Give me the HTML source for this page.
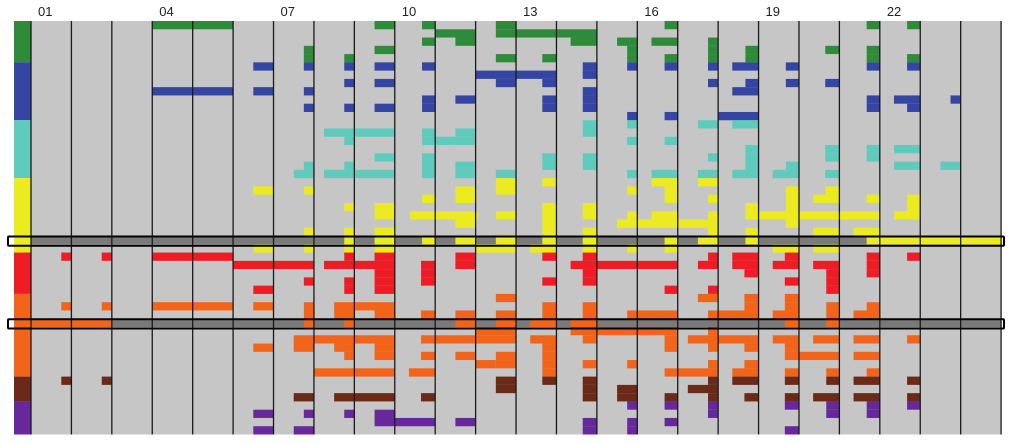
<!DOCTYPE html>
<html><head><meta charset="utf-8"><style>
html,body{margin:0;padding:0;background:#fff;}
svg{display:block;font-family:"Liberation Sans",sans-serif;}
</style></head><body>
<svg id="chart" width="1011" height="444" viewBox="0 0 1011 444"></svg>
<script>
// Chart data
const columnLabels = ["01","","","04","","","07","","","10","","","13","","","16","","","19","","","22","",""];
const groupNames = ["green","blue","teal","yellow","red","orange","brown","purple"];
const groupColors = ["#2e8b3a","#3445a3","#5ecbbc","#ebeb20","#ee1c25","#f26419","#6a2a17","#66289a"];
const groupStartRows = [0,5,12,19,28,33,43,46];
const highlightRows = [26,36];
// segments per row: [startUnit, lengthUnit] where a column = 4 units
const rowSegments = [
/*0*/[[12,8],[34,2],[38.7,1.3],[46,2],[62.7,1.3],[82.7,1.3],[86.7,1.3]],
/*1*/[[40,4],[46,2],[48,8]],
/*2*/[[38.7,1.3],[42,2],[53.4,2.6],[58,2],[61.4,2.6],[67,1]],
/*3*/[[27,1],[34,2],[59,1],[67,1],[70.7,1.3],[78.6,1.4],[82.7,1.3]],
/*4*/[[27,1],[31,1],[46,2],[50.6,1.4],[59,1],[62.7,1.3],[67,1],[70.7,1.3],[82.7,1.3],[86.7,1.3]],
/*5*/[[22,2],[27,1],[31,1],[34,2],[38.7,1.3],[54.6,1.4],[59,1],[62.7,1.3],[67,1],[69.4,2.6],[74.7,1.3],[82.7,1.3],[86.7,1.3]],
/*6*/[[44,8],[54.6,1.4]],
/*7*/[[31,1],[34,2],[46,2],[50.6,1.4],[67,1],[70.7,1.3],[74.7,1.3],[78.6,1.4]],
/*8*/[[12,8],[22,2],[27,1],[54.6,1.4],[69.4,2.6]],
/*9*/[[38.7,1.3],[42,2],[50.6,1.4],[54.6,1.4],[82.7,1.3],[85.4,2.6],[91,1]],
/*10*/[[27,1],[31,1],[34,2],[38.7,1.3],[50.6,1.4],[54.6,1.4],[82.7,1.3],[86.7,1.3]],
/*11*/[[59,1],[62.7,1.3],[68,4]],
/*12*/[[54.6,1.4],[59,1],[66,2],[69.4,2.6]],
/*13*/[[29,7],[38.7,1.3],[42,2],[54.6,1.4]],
/*14*/[[31,1],[38.7,1.3],[40,2],[42,2],[59,1],[62.7,1.3]],
/*15*/[[70.7,1.3],[78.6,1.4],[82.7,1.3],[85.4,2.6]],
/*16*/[[34,2],[38.7,1.3],[50.6,1.4],[54.6,1.4],[67,1],[70.7,1.3],[78.6,1.4],[82.7,1.3]],
/*17*/[[27,1],[31,1],[38.7,1.3],[42,2],[50.6,1.4],[54.6,1.4],[70.7,1.3],[74.7,1.3],[85.4,2.6],[90,2]],
/*18*/[[26,2],[29,7],[38.7,1.3],[42,2],[46,2],[59,1],[61.4,2.6],[66,2],[69.4,2.6],[73.4,2.6],[78.6,1.4]],
/*19*/[[46,2],[50.6,1.4],[61.4,2.6],[66,2]],
/*20*/[[22,2],[27,1],[42,2],[46,2],[59,1],[62.7,1.3],[74.7,1.3],[78.6,1.4]],
/*21*/[[38.7,1.3],[42,2],[62.7,1.3],[67,1],[74.7,1.3],[77.4,2.6],[82.7,1.3],[86.7,1.3]],
/*22*/[[31,1],[34,2],[50.6,1.4],[54.6,1.4],[70.7,1.3],[74.7,1.3],[86.7,1.3]],
/*23*/[[34,2],[37.5,6.7],[46,2],[50.6,1.4],[54.6,1.4],[59,1],[61.4,2.6],[67,1],[70.7,1.3],[72,12],[85.4,2.6],[86.7,1.3]],
/*24*/[[42,2],[50.6,1.4],[58,10],[67,1],[74.7,1.3]],
/*25*/[[27,1],[31,1],[34,2],[50.6,1.4],[54.6,1.4],[67,1],[70.7,1.3],[77.4,2.6],[81.4,2.6]],
/*26*/[[31,1],[34,2],[38.7,1.3],[42,2],[46,2],[50.6,1.4],[54.6,1.4],[62.7,1.3],[66,2],[70.7,1.3],[82.7,13.3]],
/*27*/[[22,2],[27,1],[31,1],[34,2],[44,4],[49.4,2.6],[54.6,1.4],[59,1],[62.7,1.3],[73.4,2.6],[77.4,2.6]],
/*28*/[[3,1],[7,1],[12,8],[31,1],[34,2],[42,2],[50.6,1.4],[54.6,1.4],[67,1],[69.4,2.6],[74.6,1.4],[82.7,1.3],[86.7,1.3]],
/*29*/[[20,8],[29,7],[38.6,1.4],[42,2],[53.4,2.6],[56,8],[66,2],[69.4,2.6],[73.4,2.6],[77.4,2.6],[82.7,1.3]],
/*30*/[[34,2],[38.6,1.4],[54.6,1.4],[70.6,1.4],[78.7,1.3],[82.7,1.3]],
/*31*/[[27,1],[31,1],[34,2],[38.6,1.4],[50.6,1.4],[54.6,1.4],[74.6,1.4],[78.7,1.3]],
/*32*/[[22,2],[31,1],[34,2],[62.7,1.3],[67,1],[78.7,1.3]],
/*33*/[[46,2],[66,2],[70.6,1.4],[74.6,1.4]],
/*34*/[[3,1],[7,1],[12,8],[22,2],[27,1],[30,6],[50.6,1.4],[54.6,1.4],[70.6,1.4],[74.6,1.4],[78.7,1.3],[82.7,1.3]],
/*35*/[[27,1],[30,2],[34,2],[38.6,1.4],[42,2],[46,2],[50.6,1.4],[54.6,1.4],[59,5],[67,5],[73.4,2.6],[78.7,1.3],[81.4,2.6]],
/*36*/[[0,8],[27,1],[31,1],[42,2],[46,2],[49.4,2.6],[53.4,2.6],[74.6,1.4],[78.7,1.3]],
/*37*/[[44,4],[53.4,2.6],[56,8],[67,1]],
/*38*/[[26,10],[38.6,5.4],[44,4],[49.4,2.6],[54.6,1.4],[62.7,1.3],[65,3],[67,1],[68,4],[73.4,2.6],[77.4,2.6],[81.4,2.6],[86.7,1.3]],
/*39*/[[22,2],[26,2],[30,2],[34,2],[50.6,1.4],[62.7,1.3],[67,1],[70.6,1.4],[74.6,1.4]],
/*40*/[[31,1],[34,2],[38.6,1.4],[42,2],[46,2],[50.6,1.4],[74.6,1.4],[76,4],[81.4,2.6]],
/*41*/[[44,2],[46,2],[50.6,1.4],[54.6,1.4],[59,1],[67,1],[70.6,1.4]],
/*42*/[[28,8],[37.4,2.6],[50.6,1.4],[62.7,1.3],[64,4],[69.4,2.6],[74.6,1.4],[78.7,1.3],[82.7,1.3]],
/*43*/[[3,1],[7,1],[46,2],[50.6,1.4],[54.6,1.4],[67,1],[69.4,2.6],[74.6,1.4],[78.7,1.3],[81.4,2.6],[86.7,1.3]],
/*44*/[[46,2],[54.6,1.4],[58,2],[65,3]],
/*45*/[[26,2],[30,6],[38.6,1.4],[54.6,1.4],[58,2],[62.7,1.3],[67,1],[70.6,1.4],[74.6,1.4],[77.4,2.6],[81.4,2.6],[86.7,1.3]],
/*46*/[[59,1],[62.7,1.3],[67,1],[74.6,1.4],[78.7,1.3],[82.7,1.3],[86.7,1.3]],
/*47*/[[22,2],[27,1],[31,1],[34,2],[67,1],[78.7,1.3],[82.7,1.3]],
/*48*/[[34,2],[36,4],[42,2],[54.6,1.4],[59,1],[62.7,1.3]],
/*49*/[[22,2],[26,2],[54.6,1.4],[59,1],[74.6,1.4]]
];

const NS="http://www.w3.org/2000/svg";
const svg=document.getElementById('chart');
const X0=31, UNIT=10.105, Y0=21, RH=8.27, NROWS=50, NCOLS=24;
const xScale=u=>X0+u*UNIT;
const yScale=r=>Y0+r*RH;
function groupOf(r){let g=0;for(let i=0;i<groupStartRows.length;i++)if(r>=groupStartRows[i])g=i;return g;}
function mk(tag,attrs){const e=document.createElementNS(NS,tag);for(const k in attrs)e.setAttribute(k,attrs[k]);svg.appendChild(e);return e;}

let bg=mk('rect',{x:X0,y:Y0,width:xScale(NCOLS*4)-X0,height:yScale(NROWS)-Y0,fill:'#c6c6c6'});



highlightRows.forEach(r=>{
  const b=mk('rect',{x:X0,y:yScale(r),width:xScale(NCOLS*4)-X0,height:RH,fill:'#7a7a7a'});
  
  
});

// group strip
for(let g=0;g<groupStartRows.length;g++){
  const r0=groupStartRows[g], r1=g+1<groupStartRows.length?groupStartRows[g+1]:NROWS;
  const s=mk('rect',{x:14,y:yScale(r0),width:17,height:yScale(r1)-yScale(r0),fill:groupColors[g]});
  
  
}

rowSegments.forEach((segs,r)=>{
  const col=groupColors[groupOf(r)];
  segs.forEach(([s,l])=>{
    const c=mk('rect',{x:xScale(s),y:yScale(r),width:l*UNIT,height:RH,fill:col});
    
    
  });
});

for(let c=0;c<=NCOLS;c++){
  const x=xScale(c*4);
  const ln=mk('line',{x1:x,x2:x,y1:Y0,y2:yScale(NROWS),stroke:c%1===0?'#1a1a1a':'#1a1a1a','stroke-width':1.3});
  
  
}

columnLabels.forEach((lab,c)=>{
  if(!lab)return;
  const t=mk('text',{x:xScale(c*4)+7,y:16,'font-size':13,fill:'#222'});
  t.textContent=lab;
  
  
});

highlightRows.forEach(r=>{
  const b=mk('rect',{x:8,y:yScale(r)+0.5,width:996,height:RH+1,fill:'none',stroke:'#000','stroke-width':2,rx:1});
  
  
});
</script>
</body></html>
